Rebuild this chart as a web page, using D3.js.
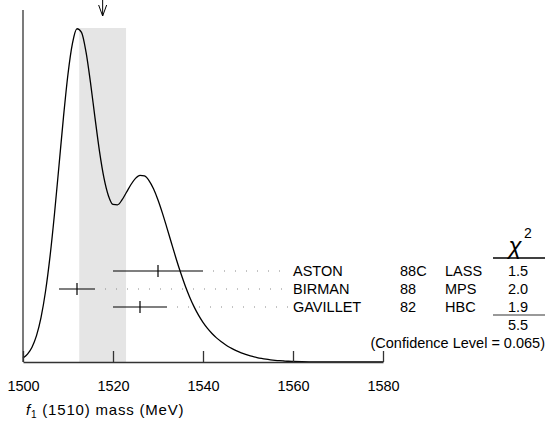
<!DOCTYPE html>
<html><head><meta charset="utf-8">
<script src="https://cdn.jsdelivr.net/npm/d3@7"></script>
<style>
html,body{margin:0;padding:0;background:#fff;}
svg{display:block;}
text{font-family:"Liberation Sans",Arial,Helvetica,sans-serif;}
</style></head>
<body>
<svg id="c" width="548" height="430"></svg>
<script>
// ---- data ----
const names = ["ASTON", "BIRMAN", "GAVILLET"];
const years = ["88C", "88", "82"];
const experiments = ["LASS", "MPS", "HBC"];
const masses = [1530, 1512, 1526];
const errors = [10, 4, 6];
const chi2 = ["1.5", "2.0", "1.9"];
const chi2Total = "5.5";
const confidenceLevel = "0.065";
const averageMass = 1517.7;
const averageError = 5.2;
const xTicks = [1500, 1520, 1540, 1560, 1580];
const curveMass = [1500,1501,1502,1503,1504,1505,1506,1507,1508,1509,1510,1511,1512,1513,1514,1515,1516,1517,1518,1519,1520,1521,1522,1523,1524,1525,1526,1527,1528,1529,1530,1531,1532,1533,1534,1535,1536,1537,1538,1539,1540,1541,1542,1543,1544,1545,1546,1547,1548,1549,1550,1551,1552,1553,1554,1555,1556,1557,1558,1559,1560,1562,1564,1566,1570,1580];
const curveHeight = [0.0121,0.0238,0.0444,0.0790,0.1329,0.2110,0.3154,0.4440,0.5884,0.7339,0.8623,0.9547,0.9977,0.9870,0.9284,0.8365,0.7311,0.6308,0.5504,0.4972,0.4720,0.4706,0.4852,0.5081,0.5315,0.5498,0.5589,0.5569,0.5432,0.5186,0.4851,0.4451,0.4010,0.3555,0.3107,0.2685,0.2299,0.1956,0.1658,0.1403,0.1187,0.1005,0.0852,0.0722,0.0611,0.0516,0.0434,0.0364,0.0303,0.0250,0.0205,0.0166,0.0134,0.0107,0.0084,0.0066,0.0051,0.0039,0.0030,0.0022,0.0017,0.0009,0.0005,0.0002,0.0001,0];

const svg = d3.select("#c");
const x = d3.scaleLinear().domain([1500, 1580]).range([23, 383]);
const y = d3.scaleLinear().domain([0, 1]).range([362, 28]);
const row = d3.scalePoint().domain(names).range([271, 307]);

// shaded band
svg.append("rect")
  .attr("x", x(averageMass - averageError))
  .attr("width", x(averageMass + averageError) - x(averageMass - averageError))
  .attr("y", y(1)).attr("height", y(0) - y(1))
  .attr("fill", "#e5e5e5");

// arrow
const ax = x(averageMass);
svg.append("path")
  .attr("d", `M${ax},0V16M${ax-4},5L${ax},16L${ax+4},5`)
  .attr("fill", "none").attr("stroke", "#000").attr("stroke-width", 1);

// ideogram curve
const pts = curveMass.map((m, i) => [m, curveHeight[i]]);
svg.append("path")
  .datum(pts)
  .attr("d", d3.line().x(d => x(d[0])).y(d => y(d[1])).curve(d3.curveMonotoneX))
  .attr("fill", "none").attr("stroke", "#000").attr("stroke-width", 1.3);

// left axis
svg.append("line").attr("x1", 23).attr("x2", 23).attr("y1", 10).attr("y2", y(0))
  .attr("stroke", "#333").attr("stroke-width", 1.3);

// bottom axis
const xAxis = d3.axisBottom(x).tickValues(xTicks).tickFormat(d3.format("d"))
  .tickSizeInner(-11).tickSizeOuter(0).tickPadding(19);
const g = svg.append("g").attr("transform", `translate(0,${y(0)})`).call(xAxis);
g.select(".domain").attr("stroke", "#333").attr("stroke-width", 1.3);
g.selectAll(".tick line").attr("stroke", "#333").attr("stroke-width", 1.3);
g.selectAll(".tick text").attr("font-size", 14.5).attr("fill", "#000")
  .attr("font-family", "Liberation Sans, Arial, sans-serif");

// measurements
const labelX = 293;
const fs = 14.5;
names.forEach((n, i) => {
  const yy = row(n);
  const lo = x(masses[i] - errors[i]), hi = x(masses[i] + errors[i]);
  svg.append("line").attr("x1", lo).attr("x2", hi).attr("y1", yy).attr("y2", yy)
    .attr("stroke", "#000").attr("stroke-width", 1.2);
  svg.append("line").attr("x1", x(masses[i])).attr("x2", x(masses[i]))
    .attr("y1", yy - 6).attr("y2", yy + 6)
    .attr("stroke", "#000").attr("stroke-width", 1.2);
  svg.append("line").attr("x1", hi + 10).attr("x2", labelX - 4).attr("y1", yy).attr("y2", yy)
    .attr("stroke", "#888").attr("stroke-width", 1).attr("stroke-dasharray", "1,10");
  const t = svg.append("g").attr("font-size", fs).attr("fill", "#000");
  t.append("text").attr("x", labelX).attr("y", yy + 5).text(n);
  t.append("text").attr("x", 400).attr("y", yy + 5).text(years[i]);
  t.append("text").attr("x", 445).attr("y", yy + 5).text(experiments[i]);
  t.append("text").attr("x", 518).attr("y", yy + 5).attr("text-anchor", "middle").text(chi2[i]);
});

// chi2 header
svg.append("text").attr("x", 515).attr("y", 254).attr("text-anchor", "middle")
  .attr("font-family", "DejaVu Serif, serif").attr("font-style", "italic")
  .attr("font-size", 24).text("χ");
svg.append("text").attr("x", 524).attr("y", 238).attr("font-size", 14).text("2");
svg.append("line").attr("x1", 493).attr("x2", 545).attr("y1", 258).attr("y2", 258)
  .attr("stroke", "#000").attr("stroke-width", 1.3);
svg.append("line").attr("x1", 493).attr("x2", 545).attr("y1", 315).attr("y2", 315)
  .attr("stroke", "#777").attr("stroke-width", 1.5);
svg.append("text").attr("x", 518).attr("y", 330).attr("text-anchor", "middle")
  .attr("font-size", fs).text(chi2Total);
svg.append("text").attr("x", 545).attr("y", 348).attr("text-anchor", "end")
  .attr("font-size", fs).text(`(Confidence Level = ${confidenceLevel})`);

// x title
const title = svg.append("text").attr("x", 26).attr("y", 415)
  .attr("font-family", "DejaVu Sans, sans-serif").attr("font-size", 15)
  .attr("letter-spacing", 0.8);
title.append("tspan").attr("font-style", "italic").text("f");
title.append("tspan").attr("font-size", 10).attr("dy", 3).text("1");
title.append("tspan").attr("dy", -3).text(" (1510) mass (MeV)");
</script>
</body></html>
